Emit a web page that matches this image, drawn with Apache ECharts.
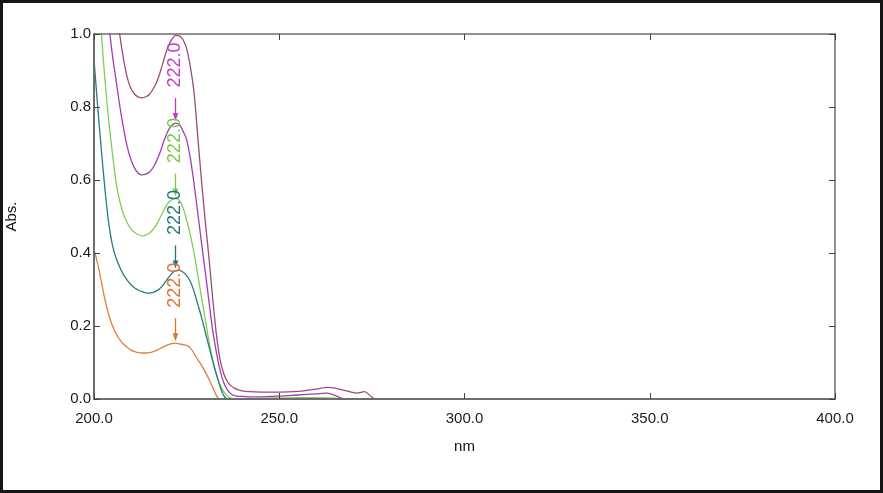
<!DOCTYPE html>
<html>
<head>
<meta charset="utf-8">
<script src="https://cdn.jsdelivr.net/npm/echarts@6/dist/echarts.min.js"></script>
<style>
html,body{margin:0;padding:0;background:#fff;}
#chart{width:883px;height:493px;}
</style>
</head>
<body>
<div id="chart"></div>
<script>
// ---- data ----
const wavelengths = [200,201,202,203,204,205,206,207,208,209,210,211,212,213,214,215,216,217,218,219,220,221,222,223,224,225,226,227,228,229,230,231,232,233,234,235,236,237,238,239,240,242,245,250,255,260,263,265,267,269,271,273,275,276,280,300,350,400];
const orangeAbs = [0.41,0.37,0.32,0.27,0.23,0.2,0.178,0.162,0.15,0.141,0.134,0.13,0.127,0.126,0.126,0.127,0.13,0.134,0.139,0.144,0.149,0.152,0.153,0.151,0.149,0.147,0.14,0.125,0.108,0.093,0.075,0.055,0.033,0.01,0,0,0,0,0,0,0,0,0,0,0,0,0,0,0,0,0,0,0,0,0,0,0,0];
const tealAbs = [0.93,0.8,0.68,0.57,0.48,0.42,0.385,0.36,0.34,0.325,0.313,0.304,0.298,0.294,0.291,0.29,0.292,0.297,0.305,0.317,0.331,0.344,0.352,0.353,0.348,0.338,0.322,0.295,0.26,0.225,0.185,0.145,0.105,0.068,0.035,0.01,0,0,0,0,0,0,0,0,0,0,0,0,0,0,0,0,0,0,0,0,0,0];
const greenAbs = [1.4,1.18,1.0,0.87,0.76,0.67,0.59,0.54,0.505,0.482,0.466,0.456,0.45,0.447,0.449,0.455,0.465,0.48,0.5,0.52,0.537,0.546,0.549,0.545,0.525,0.49,0.45,0.4,0.34,0.28,0.22,0.16,0.11,0.07,0.04,0.02,0.008,0.002,0,0,0,0,0.002,0.003,0.004,0.004,0.003,0.002,0,0,0,0,0,0,0,0,0,0];
const purpleAbs = [1.9,1.6,1.36,1.17,1.03,0.94,0.87,0.8,0.74,0.69,0.655,0.632,0.618,0.614,0.616,0.622,0.635,0.655,0.68,0.71,0.735,0.75,0.756,0.752,0.735,0.71,0.66,0.59,0.51,0.43,0.35,0.27,0.19,0.13,0.08,0.045,0.025,0.014,0.009,0.007,0.007,0.006,0.006,0.008,0.011,0.014,0.016,0.01,0.002,0,0,0,0,0,0,0,0,0];
const maroonAbs = [2.6,2.2,1.85,1.58,1.38,1.2,1.08,0.995,0.93,0.88,0.85,0.835,0.827,0.825,0.828,0.835,0.85,0.87,0.9,0.935,0.965,0.985,0.996,0.995,0.985,0.96,0.91,0.84,0.72,0.6,0.49,0.39,0.28,0.18,0.11,0.07,0.048,0.036,0.029,0.025,0.022,0.02,0.019,0.019,0.021,0.027,0.032,0.03,0.025,0.02,0.016,0.02,0.005,0,0,0,0,0];
const peakLabel = '222.0';
const peakWavelength = 222;
const xTicks = [200, 250, 300, 350, 400];
const yTicks = [0, 0.2, 0.4, 0.6, 0.8, 1.0];

const seriesDefs = [
  {name:'s1', values: maroonAbs, color:'#9a4c7c', label:null},
  {name:'s2', values: purpleAbs, color:'#a43bb4', label:'#c438c8'},
  {name:'s3', values: greenAbs, color:'#82cc55', label:'#78c848'},
  {name:'s4', values: tealAbs, color:'#267d7e', label:'#1f7a78'},
  {name:'s5', values: orangeAbs, color:'#e27b42', label:'#e0702e'}
];

const chart = echarts.init(document.getElementById('chart'), null, {renderer:'canvas'});
const axisGray = '#6e6e6e';
const fontFam = '"Liberation Sans", Arial, sans-serif';

const option = {
  backgroundColor:'#fff',
  animation:false,
  grid:{left:94, right:48, top:34, bottom:94, containLabel:false, outerBoundsMode:'none'},
  xAxis:[{
    type:'value', min:xTicks[0], max:xTicks[xTicks.length-1], interval:50, z:5,
    name:'nm', nameLocation:'middle', nameGap:40,
    nameTextStyle:{color:'#111', fontSize:15, fontFamily:fontFam},
    axisLine:{show:true, onZero:false, lineStyle:{color:axisGray, width:2}},
    axisTick:{show:true, inside:true, length:6, lineStyle:{color:'#444', width:1}},
    axisLabel:{color:'#1a1a1a', fontSize:15, fontFamily:fontFam, margin:12, formatter:v=>v.toFixed(1)},
    splitLine:{show:false}
  },{
    type:'value', position:'top', min:xTicks[0], max:xTicks[xTicks.length-1], interval:50, z:5,
    axisLine:{show:true, onZero:false, lineStyle:{color:axisGray, width:1.5}},
    axisTick:{show:true, inside:true, length:6, lineStyle:{color:'#444', width:1}},
    axisLabel:{show:false}, splitLine:{show:false}
  }],
  yAxis:[{
    type:'value', min:yTicks[0], max:yTicks[yTicks.length-1], interval:0.2, z:5,
    name:'Abs.', nameLocation:'middle', nameGap:75, nameRotate:90,
    nameTextStyle:{color:'#111', fontSize:15, fontFamily:fontFam},
    axisLine:{show:true, onZero:false, lineStyle:{color:axisGray, width:2}},
    axisTick:{show:true, inside:true, length:6, lineStyle:{color:'#444', width:1}},
    axisLabel:{color:'#1a1a1a', fontSize:15, fontFamily:fontFam, margin:3, formatter:v=>v.toFixed(1)},
    splitLine:{show:false}
  },{
    type:'value', position:'right', min:yTicks[0], max:yTicks[yTicks.length-1], interval:0.2, z:5,
    axisLine:{show:true, onZero:false, lineStyle:{color:axisGray, width:1.5}},
    axisTick:{show:true, inside:true, length:6, lineStyle:{color:'#444', width:1}},
    axisLabel:{show:false}, splitLine:{show:false}
  }],
  series: seriesDefs.map(d => ({
    name:d.name, type:'line', xAxisIndex:0, yAxisIndex:0,
    data: wavelengths.map((w,i)=>[w, d.values[i]]),
    showSymbol:false, symbol:'none', smooth:0.25, clip:true,
    lineStyle:{color:d.color, width:1.3},
    z:2
  })),
  graphic:[]
};
chart.setOption(option);

// peak annotations (positioned from data via the chart's own scale)
const idx = wavelengths.indexOf(peakWavelength);
const g = [];
seriesDefs.forEach(d => {
  if (!d.label) return;
  const p = chart.convertToPixel({gridIndex:0}, [peakWavelength, d.values[idx]]);
  const px = p[0], py = p[1];
  g.push({type:'text', x:px, y:py-58, rotation:Math.PI/2, z:10,
    style:{text:peakLabel, fill:d.label, font:'18px ' + fontFam, align:'center', verticalAlign:'middle'}});
  g.push({type:'line', z:10, shape:{x1:px, y1:py-25, x2:px, y2:py-6},
    style:{stroke:d.label, lineWidth:1.3}});
  g.push({type:'polygon', z:10, shape:{points:[[px-2.8,py-10],[px+2.8,py-10],[px,py-2]]},
    style:{fill:d.label}});
});
// outer frame
g.push({type:'rect', z:20, shape:{x:1.5, y:1.5, width:880, height:490},
  style:{fill:null, stroke:'#151515', lineWidth:3}});
chart.setOption({graphic:g});
</script>
</body>
</html>
